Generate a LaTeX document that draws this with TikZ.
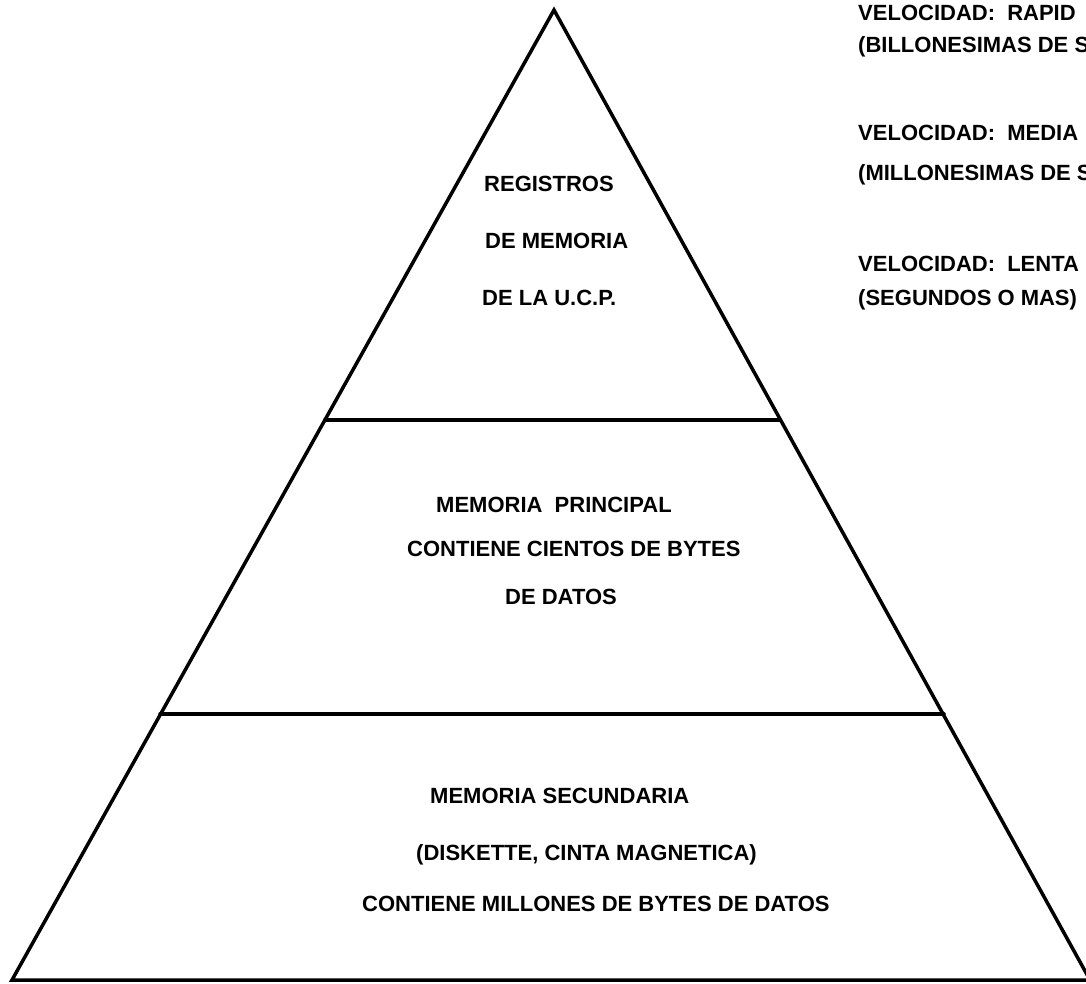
\documentclass[tikz,border=0pt]{standalone}
\usepackage{fontspec}
\setmainfont{Liberation Sans}
\begin{document}
\begin{tikzpicture}[x=1pt,y=-1pt,
  edge/.style={line width=3.5pt, line join=miter, line cap=round},
  lbl/.style={anchor=base west, inner sep=0pt, font=\fontsize{22}{26}\selectfont\bfseries},
  side/.style={anchor=base west, inner sep=0pt, font=\fontsize{22}{26}\selectfont\bfseries}]
\clip (0,0) rectangle (1086,984);
\fill[white] (0,0) rectangle (1086,984);
% pyramid
\coordinate (apex) at (554,10);
\coordinate (bl) at (12,980);
\coordinate (br) at (1090,980);
\coordinate (l1) at (325,420);
\coordinate (r1) at (780,420);
\coordinate (l2) at (160,714);
\coordinate (r2) at (944,714);
\draw[edge] (bl) -- (apex) -- (br) -- cycle;
\draw[edge] (l1) -- (r1);
\draw[edge] (l2) -- (r2);
% top level
\node[lbl] (t1) at (484,192) {REGISTROS};
\node[lbl] (t2) at (485,248) {DE MEMORIA};
\node[lbl] (t3) at (482,305) {DE LA U.C.P.};
% middle level
\node[lbl] (m1) at (436,512) {MEMORIA\ \ PRINCIPAL};
\node[lbl] (m2) at (407,556) {CONTIENE CIENTOS DE BYTES};
\node[lbl] (m3) at (505,604) {DE DATOS};
% bottom level
\node[lbl] (b1) at (430,803) {MEMORIA SECUNDARIA};
\node[lbl] (b2) at (416,860) {(DISKETTE, CINTA MAGNETICA)};
\node[lbl] (b3) at (362,911) {CONTIENE MILLONES DE BYTES DE DATOS};
% speeds
\node[side] (v1) at (858,21) {VELOCIDAD:\ \ RAPID};
\node[side] (v1b) at (858,53) {(BILLONESIMAS DE S};
\node[side] (v2) at (858,141) {VELOCIDAD:\ \ MEDIA};
\node[side] (v2b) at (858,181) {(MILLONESIMAS DE S};
\node[side] (v3) at (858,271) {VELOCIDAD:\ \ LENTA};
\node[side] (v3b) at (858,305) {(SEGUNDOS O MAS)};
\end{tikzpicture}
\end{document}
